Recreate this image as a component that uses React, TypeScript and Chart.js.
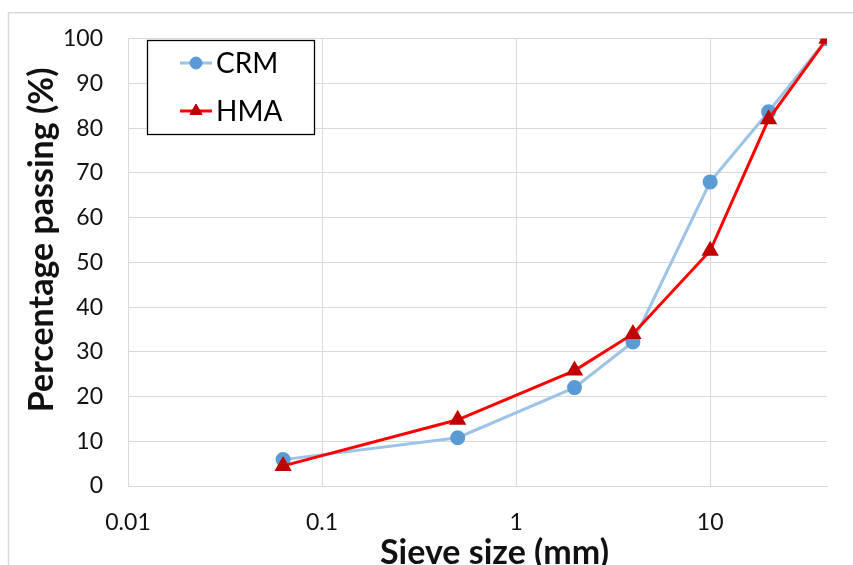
import React, { useEffect, useRef } from "react";
import { Chart, registerables } from "chart.js";
import { drawPoint } from "chart.js/helpers";

Chart.register(...registerables);

// Sieve sizes (mm)
const sieveSizes = [0.063, 0.5, 2, 4, 10, 20, 40];
// Percentage passing
const crmValues = [5.9, 10.8, 22, 32.2, 68, 83.7, 100];
const hmaValues = [4.5, 14.8, 25.8, 34, 52.6, 82, 100];
// Axis ticks
const xTickValues = [0.01, 0.1, 1, 10];
const xTickLabels = ["0.01", "0.1", "1", "10"];
const yTickStep = 10;
// Titles
const xTitle = "Sieve size (mm)";
const yTitle = "Percentage passing (%)";

const FONT = "Lato, 'Open Sans', 'DejaVu Sans', sans-serif";

const backgroundPlugin = {
  id: "bgBorder",
  beforeDraw(chart: any) {
    const c = chart.ctx;
    c.save();
    c.fillStyle = "#ffffff";
    c.fillRect(0, 0, chart.width, chart.height);
    c.strokeStyle = "#D9D9D9";
    c.lineWidth = 1.5;
    c.beginPath();
    c.moveTo(8.5, chart.height);
    c.lineTo(8.5, 12.75);
    c.lineTo(chart.width, 12.75);
    c.stroke();
    c.restore();
  },
};

const axisTitlePlugin = {
  id: "axisTitles",
  afterDraw(chart: any) {
    const c = chart.ctx;
    const area = chart.chartArea;
    c.save();
    c.fillStyle = "#111111";
    c.font = `bold 34px ${FONT}`;
    c.textAlign = "center";
    c.textBaseline = "alphabetic";
    c.fillText(xTitle, (area.left + area.right) / 2 + 17, chart.height - 1);
    c.translate(53, (area.top + area.bottom) / 2 - 22.5);
    c.rotate(-Math.PI / 2);
    c.fillText(yTitle, 0, 0);
    c.restore();
  },
};

const boxLegendPlugin = {
  id: "boxLegend",
  afterDraw(chart: any) {
    const c = chart.ctx;
    c.save();
    const bx = 147, by = 40, bw = 167, bh = 94;
    c.fillStyle = "#ffffff";
    c.fillRect(bx, by, bw, bh);
    c.strokeStyle = "#000000";
    c.lineWidth = 1.3;
    c.strokeRect(bx + 0.5, by + 0.5, bw, bh);
    chart.data.datasets.forEach((ds: any, i: number) => {
      const y = 63 + i * 48;
      c.strokeStyle = ds.borderColor;
      c.lineWidth = ds.borderWidth;
      c.beginPath();
      c.moveTo(180, y);
      c.lineTo(212, y);
      c.stroke();
      c.fillStyle = ds.pointBackgroundColor;
      c.strokeStyle = ds.pointBorderColor;
      c.lineWidth = 1;
      drawPoint(c, { pointStyle: ds.pointStyle, rotation: 0, radius: ds.pointRadius, borderWidth: 1 }, 196, y);
      c.fillStyle = "#000000";
      c.font = `28px ${FONT}`;
      c.textAlign = "left";
      c.textBaseline = "middle";
      c.fillText(ds.label, 216, y + 1);
    });
    c.restore();
  },
};

export default function App() {
  const ref = useRef<HTMLCanvasElement>(null);

  useEffect(() => {
    const canvas = ref.current;
    if (!canvas) return;
    const chart = new Chart(canvas, {
      type: "line",
      data: {
        datasets: [
          {
            label: "CRM",
            data: sieveSizes.map((x, i) => ({ x, y: crmValues[i] })),
            borderColor: "#9DC3E6",
            backgroundColor: "#5B9BD5",
            pointBackgroundColor: "#5B9BD5",
            pointBorderColor: "#5B9BD5",
            pointStyle: "circle",
            pointRadius: 6,
            borderWidth: 3,
            order: 1,
          },
          {
            label: "HMA",
            data: sieveSizes.map((x, i) => ({ x, y: hmaValues[i] })),
            borderColor: "#FF0000",
            backgroundColor: "#C00000",
            pointBackgroundColor: "#C00000",
            pointBorderColor: "#C00000",
            pointStyle: "triangle",
            pointRadius: 7,
            borderWidth: 3,
            order: 0,
          },
        ],
      },
      options: {
        responsive: false,
        animation: false,
        devicePixelRatio: 1,
        layout: { padding: { top: 36, right: 26, bottom: 0, left: 0 } },
        plugins: { legend: { display: false }, tooltip: { enabled: false } },
        elements: { line: { tension: 0 } },
        scales: {
          x: {
            type: "logarithmic",
            min: 0.01,
            max: 40,
            afterBuildTicks: (s: any) => {
              s.ticks = xTickValues.map((v) => ({ value: v }));
            },
            afterFit: (s: any) => {
              s.height = 79;
            },
            ticks: {
              autoSkip: false,
              maxRotation: 0,
              padding: 23,
              color: "#111111",
              font: { family: FONT, size: 23 },
              callback: (_v: any, i: number) => xTickLabels[i],
            },
            grid: { color: "#D9D9D9", lineWidth: 1, drawTicks: false },
            border: { color: "#D9D9D9", width: 1 },
            title: { display: false },
          },
          y: {
            min: 0,
            max: 100,
            afterFit: (s: any) => {
              s.width = 128;
            },
            ticks: {
              stepSize: yTickStep,
              padding: 25,
              color: "#111111",
              font: { family: FONT, size: 23 },
            },
            grid: { color: "#D9D9D9", lineWidth: 1, drawTicks: false },
            border: { color: "#D9D9D9", width: 1 },
            title: { display: false },
          },
        },
      } as any,
      plugins: [backgroundPlugin, axisTitlePlugin, boxLegendPlugin],
    });
    return () => chart.destroy();
  }, []);

  return (
    <div
      style={{
        position: "fixed",
        left: 0,
        top: 0,
        width: 853,
        height: 565,
        overflow: "hidden",
        background: "#ffffff",
      }}
    >
      <canvas ref={ref} width={853} height={565} style={{ display: "block" }} />
    </div>
  );
}
